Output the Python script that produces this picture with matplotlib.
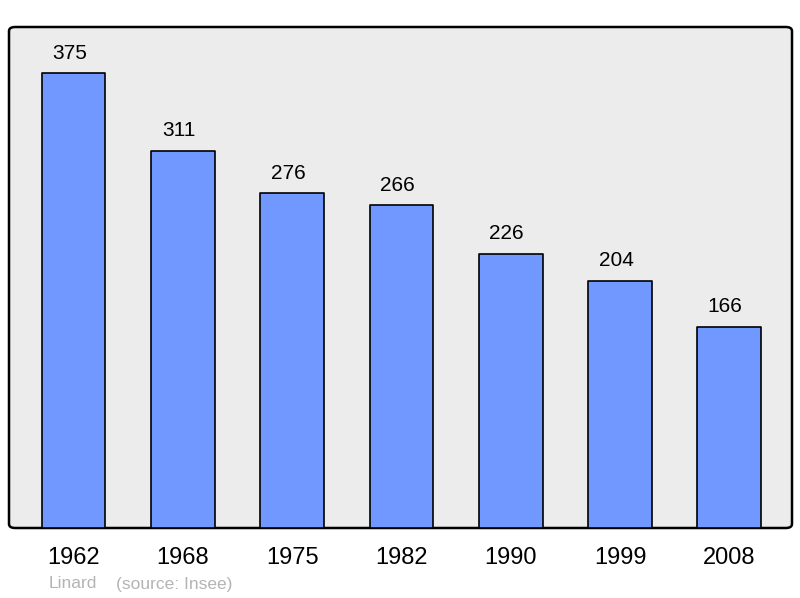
import matplotlib
matplotlib.use("Agg")
import matplotlib.pyplot as plt
from matplotlib.patches import FancyBboxPatch

years = ["1962", "1968", "1975", "1982", "1990", "1999", "2008"]
population = [375, 311, 276, 266, 226, 204, 166]

plt.rcParams['font.family'] = ['Liberation Sans', 'DejaVu Sans']

fig = plt.figure(figsize=(8, 5.98), dpi=100)
ax = fig.add_axes([9/800, 1 - 528/598, 783/800, 501/598])
ax.set_xlim(-0.59, 6.572)
ax.set_ylim(0, 413)
ax.patch.set_visible(False)
for s in ax.spines.values():
    s.set_visible(False)

frame = FancyBboxPatch((0, 0), 1, 1, boxstyle="round,pad=0,rounding_size=0.008",
                       transform=ax.transAxes, facecolor="#ececec", edgecolor="black",
                       linewidth=1.8, zorder=0, clip_on=False)
ax.add_patch(frame)

x = list(range(len(years)))
bars = ax.bar(x, population, width=0.585, color="#7098ff", edgecolor="black",
              linewidth=1.2, zorder=2)
for b in bars:
    b.set_joinstyle("round")

for xi, v in zip(x, population):
    ax.annotate(str(v), (xi, v), xytext=(-3, 7.5), textcoords="offset points",
                ha="center", va="bottom", fontsize=15, color="black")

ax.set_xticks(x)
ax.set_xticklabels(years, fontsize=17)
ax.tick_params(axis="x", length=0, pad=13.5)
ax.set_yticks([])

fig.text(49/800, 1 - 584/598, "Linard", color="#b4b4b4", fontsize=12.5, va="center", ha="left")
fig.text(116/800, 1 - 584/598, "(source: Insee)", color="#b4b4b4", fontsize=12.5, va="center", ha="left")

fig.savefig("out.png", dpi=100)
